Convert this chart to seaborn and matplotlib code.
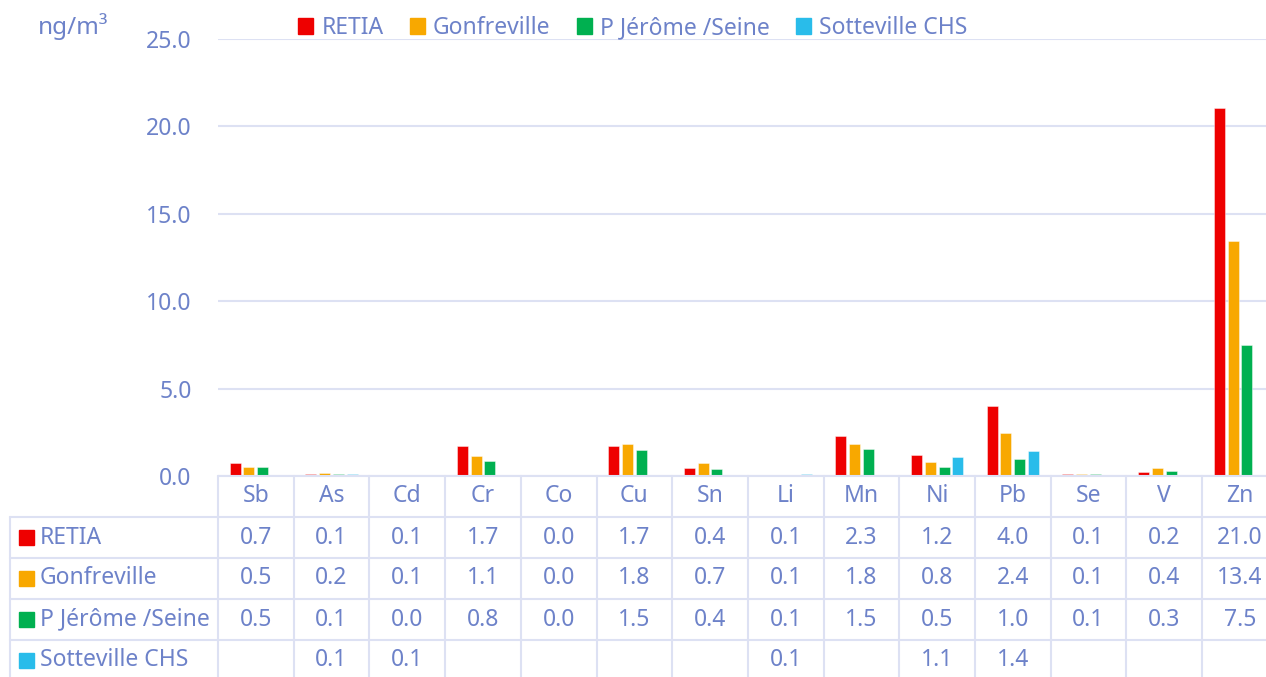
import matplotlib
matplotlib.use('Agg')
import matplotlib.pyplot as plt
import seaborn as sns
import numpy as np
import pandas as pd
from matplotlib.patches import Rectangle

# Data (ng/m3)
elements = ['Sb', 'As', 'Cd', 'Cr', 'Co', 'Cu', 'Sn', 'Li', 'Mn', 'Ni', 'Pb', 'Se', 'V', 'Zn']
series = ['RETIA', 'Gonfreville', 'P Jérôme /Seine', 'Sotteville CHS']
retia = [0.73, 0.12, 0.06, 1.70, 0.02, 1.72, 0.44, 0.05, 2.29, 1.22, 4.00, 0.10, 0.22, 21.04]
gonfreville = [0.51, 0.17, 0.05, 1.14, 0.01, 1.81, 0.72, 0.05, 1.84, 0.82, 2.44, 0.09, 0.43, 13.44]
pjerome = [0.54, 0.12, 0.04, 0.84, 0.01, 1.49, 0.42, 0.05, 1.54, 0.54, 0.99, 0.09, 0.30, 7.52]
sotteville = [np.nan, 0.11, 0.06, np.nan, np.nan, np.nan, np.nan, 0.09, np.nan, 1.08, 1.43, np.nan, np.nan, np.nan]
colors = ['#EE0000', '#F8A800', '#00B050', '#29BCEA']

values = [retia, gonfreville, pjerome, sotteville]
df = pd.DataFrame([
    {'element': el, 'site': s, 'value': v[i]}
    for s, v in zip(series, values) for i, el in enumerate(elements)
])

text_color = '#6D82C9'
grid_color = '#DDE1F3'
fs = 16.5

sns.set_style('white')
plt.rcParams['font.family'] = ['Noto Sans', 'DejaVu Sans']

W, H = 1266, 677
fig = plt.figure(figsize=(W / 100, H / 100), dpi=100)

# pixel layout
x0, y_top, y_zero = 218, 39, 476
col_w = 75.7
x1 = x0 + col_w * len(elements)
ax = fig.add_axes([x0 / W, (H - y_zero) / H, (x1 - x0) / W, (y_zero - y_top) / H])

sns.barplot(data=df.dropna(), x='element', y='value', hue='site', order=elements,
            hue_order=series, palette=colors, saturation=1, width=0.73, gap=0.2,
            errorbar=None, legend=False, ax=ax, edgecolor=(1, 1, 1, 0.5), linewidth=0.6)

ax.set_xlim(-0.5, len(elements) - 0.5)
ax.set_ylim(0, 25)
ax.set_yticks(np.arange(0, 26, 5))
ax.set_yticklabels([f'{t:.1f}' for t in np.arange(0, 26, 5)], color=text_color, fontsize=fs)
ax.tick_params(axis='y', length=0, pad=19)
ax.set_xticks([])
ax.set_xlabel('')
ax.set_ylabel('')
for sp in ax.spines.values():
    sp.set_visible(False)
ax.yaxis.grid(True, color=grid_color, linewidth=1.5)
ax.set_axisbelow(True)

# unit label
fig.text(38 / W, 1 - 27 / H, 'ng/m³', color=text_color, fontsize=fs + 1, ha='left', va='center')

# legend on top
handles = [Rectangle((0, 0), 1, 1, color=c) for c in colors]
fig.legend(handles, series, loc='center', bbox_to_anchor=(633 / W, 1 - 28 / H), ncol=4,
           frameon=False, fontsize=fs, labelcolor=text_color, handlelength=0.66,
           handleheight=0.66, handletextpad=0.35, columnspacing=1.15)

# data table drawn in pixel coordinates
tab = fig.add_axes([0, 0, 1, 1])
tab.set_xlim(0, W)
tab.set_ylim(H, 0)
tab.axis('off')
tab.patch.set_alpha(0)

row_h = 41
rows_y = [y_zero + row_h * k for k in range(6)]
lw = 1.5
# horizontal lines
tab.plot([x0, x1], [y_zero, y_zero], color=grid_color, lw=lw, clip_on=False)
for y in rows_y[1:5]:
    tab.plot([10, x1], [y, y], color=grid_color, lw=lw, clip_on=False)
# vertical lines
for k in range(len(elements) + 1):
    x = x0 + k * col_w
    tab.plot([x, x], [y_zero, H + 5], color=grid_color, lw=lw, clip_on=False)
tab.plot([10, 10], [rows_y[1], H + 5], color=grid_color, lw=lw, clip_on=False)

# header row
for i, el in enumerate(elements):
    tab.text(x0 + (i + 0.5) * col_w, y_zero + row_h / 2, el, color=text_color,
             fontsize=fs, ha='center', va='center')

# series rows
for r, (s, v, c) in enumerate(zip(series, values, colors)):
    yc = rows_y[r + 1] + row_h / 2
    tab.add_patch(Rectangle((19, yc - 7.5), 15, 15, color=c))
    tab.text(40, yc, s, color=text_color, fontsize=fs, ha='left', va='center')
    for i, val in enumerate(v):
        if not np.isnan(val):
            tab.text(x0 + (i + 0.5) * col_w, yc, f'{val:.1f}', color=text_color,
                     fontsize=fs, ha='center', va='center')

fig.savefig('out.png', dpi=100)
